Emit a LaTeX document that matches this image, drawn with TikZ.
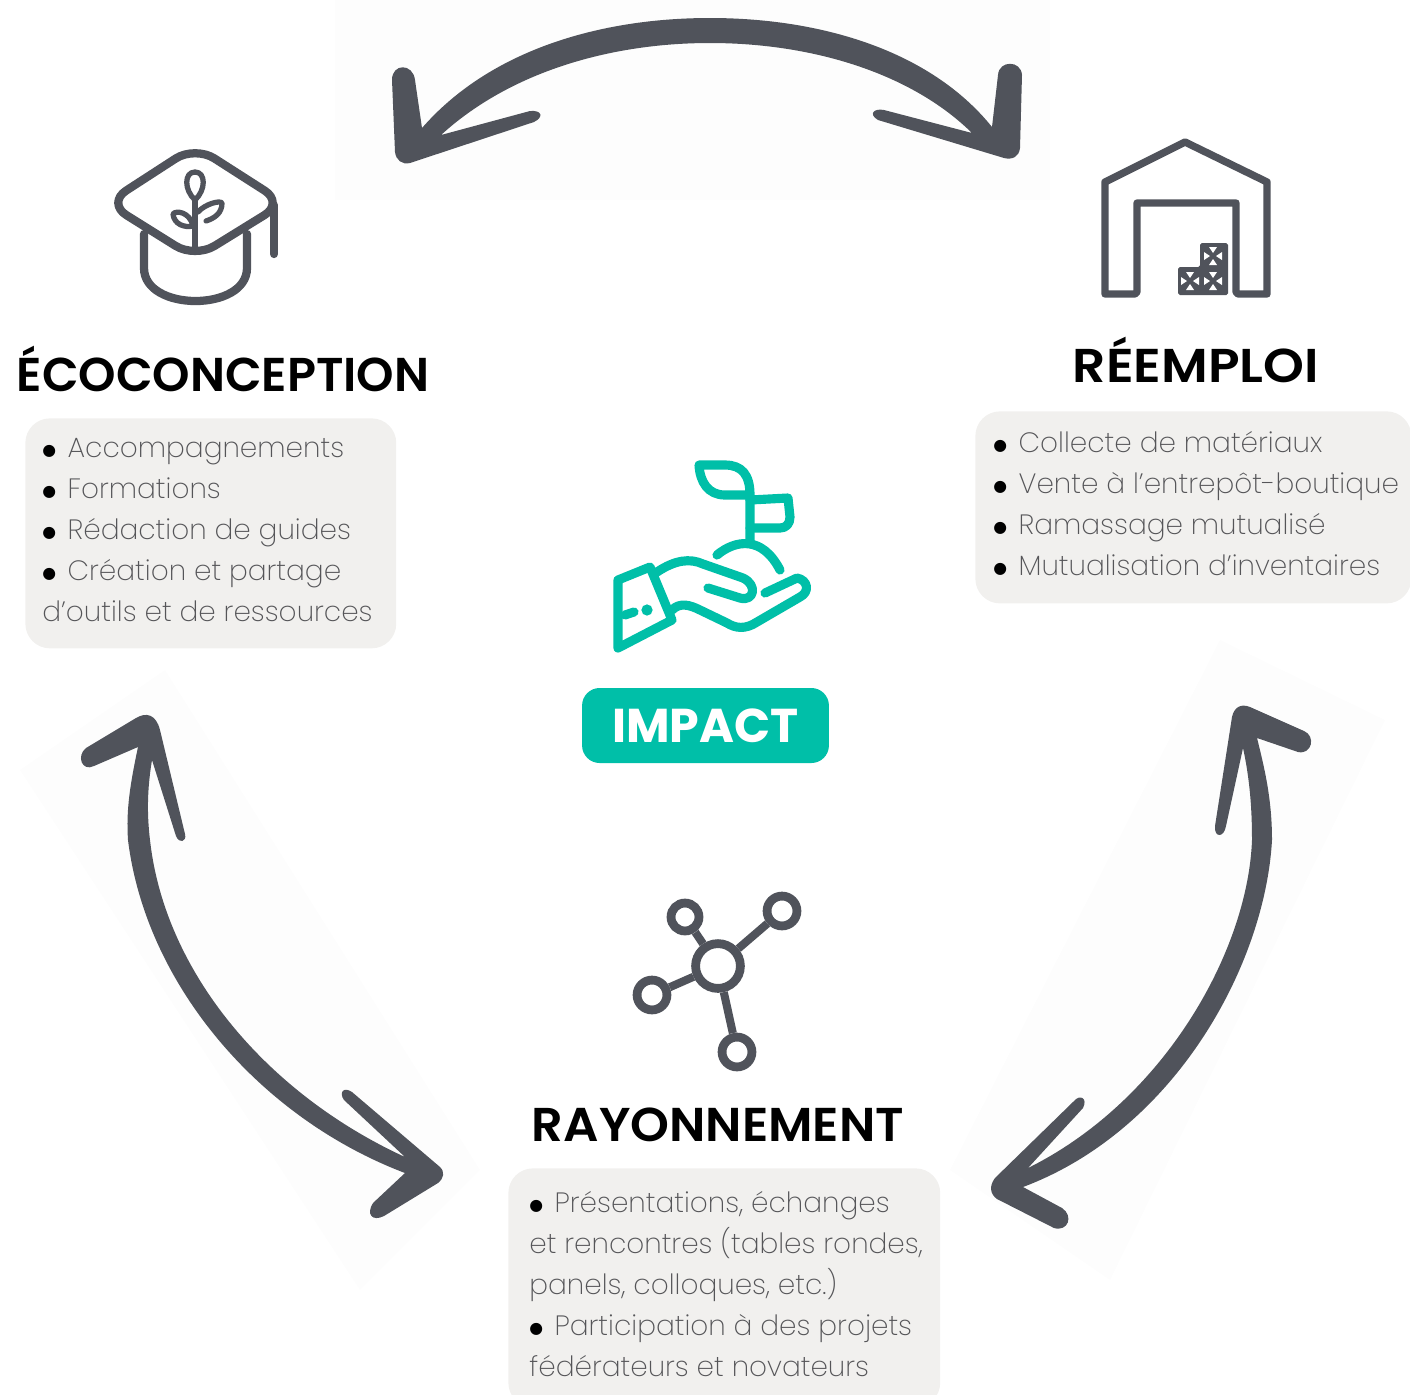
\documentclass[tikz,border=0pt]{standalone}
\usepackage{fontspec}
\setmainfont{Poppins}[UprightFont=* ExtraLight,BoldFont=* SemiBold]
\newfontfamily\heavyfont{Poppins}[UprightFont=* Bold]
\newfontfamily\dotfont{DejaVu Sans}
\usepackage{tikz}

\definecolor{slategrey}{HTML}{50535B}
\definecolor{boxgrey}{HTML}{F1F0EE}
\definecolor{impactgreen}{HTML}{00BFA8}
\definecolor{textgrey}{HTML}{555558}
\definecolor{faintgrey}{HTML}{FDFDFD}

\tikzset{
    infobox/.style={fill=boxgrey, rounded corners=14pt, inner sep=0pt, anchor=north west},
    infotext/.style={text=textgrey, inner sep=0pt, anchor=north west, align=left, font=\fontsize{15.9}{23.3}\selectfont},
    titlenode/.style={font=\fontsize{27}{30}\bfseries\selectfont, text=black, inner sep=0pt, anchor=base},
    iconline/.style={draw=slategrey, line width=4.7pt, line cap=round, line join=round},
    plantline/.style={draw=slategrey, line width=3pt, line cap=round, line join=round},
    leafline/.style={draw=impactgreen, line width=5.2pt, line cap=round, line join=round},
    ringnode/.style={circle, draw=slategrey, line width=5pt, inner sep=0pt, minimum size=#1}
}

\newcommand{\itemdot}{\makebox[14.4pt][l]{\raisebox{1.2pt}{\textcolor{black}{\dotfont\fontsize{9}{9}\selectfont ●}}}}

\begin{document}
\begin{tikzpicture}[x=0.02cm, y=-0.02cm]
    \useasboundingbox (0,0) rectangle (1410,1394);

    % Faint patches behind the arrows
    \fill[faintgrey] (335,0) rectangle (1050,200);
    \fill[faintgrey] (20,770) -- (165,670) -- (480,1170) -- (360,1290) -- cycle;
    \fill[faintgrey] (1220,640) -- (1385,720) -- (1110,1280) -- (950,1170) -- cycle;

    % Curved arrow on top
    \fill[slategrey] (422,128) .. controls (490,50) and (600,18) .. (710,18)
        .. controls (820,18) and (930,50) .. (992,127)
        -- (998,75) .. controls (999,60) and (1021,60) .. (1022,75) -- (1020,148)
        .. controls (1019,157) and (1012,160) .. (1004,158) -- (878,120)
        .. controls (868,114) and (874,108) .. (884,110) -- (972,133)
        .. controls (910,72) and (810,43) .. (710,43)
        .. controls (610,43) and (510,72) .. (441,135)
        -- (530,111) .. controls (542,110) and (544,117) .. (534,122) -- (410,163)
        .. controls (402,165) and (396,160) .. (395,152) -- (392,80)
        .. controls (392,63) and (413,63) .. (415,80) -- cycle;

    % Curved arrow on the left
    \fill[slategrey] (138,747) .. controls (130,785) and (126,810) .. (128,840)
        .. controls (146,985) and (260,1118) .. (405,1173)
        -- (373,1203) .. controls (366,1214) and (372,1222) .. (384,1216) -- (438,1183)
        .. controls (444,1178) and (445,1172) .. (440,1167) -- (352,1092)
        .. controls (343,1086) and (339,1093) .. (344,1100) -- (405,1157)
        .. controls (270,1095) and (165,975) .. (150,840)
        .. controls (147,815) and (147,790) .. (152,760)
        -- (176,836) .. controls (179,844) and (187,842) .. (185,834) -- (160,730)
        .. controls (156,714) and (146,712) .. (136,718) -- (86,748)
        .. controls (76,756) and (82,772) .. (94,766) -- cycle;

    % Curved arrow on the right
    \fill[slategrey] (1257,738) -- (1298,752) .. controls (1312,755) and (1316,736) .. (1304,731)
        -- (1250,707) .. controls (1240,703) and (1234,708) .. (1232,717) -- (1215,826)
        .. controls (1214,838) and (1224,838) .. (1226,826) -- (1243,748)
        .. controls (1250,780) and (1252,810) .. (1252,840)
        .. controls (1248,950) and (1165,1100) .. (1028,1168)
        -- (1083,1108) .. controls (1088,1098) and (1080,1094) .. (1074,1101) -- (995,1178)
        .. controls (989,1186) and (990,1194) .. (997,1199) -- (1054,1228)
        .. controls (1068,1232) and (1074,1216) .. (1062,1208) -- (1023,1187)
        .. controls (1175,1130) and (1265,965) .. (1272,840)
        .. controls (1272,800) and (1265,770) .. (1257,738) -- cycle;

    % Mortarboard icon
    \draw[iconline, rounded corners=13pt] (195,146) -- (284,203) -- (195,258) -- (107,203) -- cycle;
    \draw[iconline] (144,234) -- (144,268) .. controls (144,312) and (247,312) .. (247,268) -- (247,234);
    \draw[iconline] (274,205) -- (274,254);
    \draw[plantline] (195,248) -- (195,200);
    \draw[plantline] (195,200) .. controls (184,190) and (184,172) .. (195,172) .. controls (206,172) and (206,190) .. (195,200);
    \draw[plantline] (193,226) .. controls (190,212) and (176,210) .. (173,214) .. controls (174,224) and (184,228) .. (193,226);
    \draw[plantline] (198,212) .. controls (205,204) and (220,200) .. (222,203) .. controls (222,213) and (215,218) .. (206,221);

    % Warehouse icon
    \draw[iconline, line width=4.2pt] (1105,182) -- (1185,142) -- (1267,182) -- (1267,294) -- (1238,294) -- (1236,292) -- (1236,203) -- (1137,203) -- (1137,292) -- (1135,294) -- (1105,294) -- cycle;
    \fill[slategrey, rounded corners=1pt] (1178,267) -- (1200,267) -- (1200,243) -- (1228,243) -- (1228,295) -- (1178,295) -- cycle;
    \foreach \x/\y in {1213/256, 1213/281, 1190/281} {
        \foreach \a in {0,90,180,270} {
            \fill[white, shift={(\x,\y)}, rotate=\a] (3,0) -- (9,-4) -- (9,4) -- cycle;
        }
    }

    % Hand icon
    \draw[leafline] (750,542) -- (750,495) .. controls (750,475) and (742,465) .. (725,465) -- (699,465) .. controls (700,482) and (708,495) .. (725,495) -- (750,495);
    \draw[leafline] (750,500) -- (788,498) -- (790,517) .. controls (790,524) and (786,528) .. (780,528) -- (750,528);
    \draw[leafline] (717,555) .. controls (735,540) and (762,535) .. (780,570);
    \draw[leafline] (618,580) -- (650,567) -- (672,620) -- (618,648) -- cycle;
    \draw[leafline] (625,615) -- (634,612);
    \draw[leafline] (657,572) .. controls (675,560) and (690,558) .. (703,564) -- (743,578) .. controls (758,585) and (754,602) .. (740,598) -- (708,588);
    \draw[leafline] (765,593) -- (797,578) .. controls (808,580) and (810,592) .. (800,597) -- (757,622) .. controls (745,630) and (735,628) .. (727,623) -- (700,610) .. controls (690,605) and (680,602) .. (672,610);
    \fill[impactgreen] (647,610) circle (3.2pt);

    % Network icon
    \node[ringnode=15.9pt] (leaftop) at (685,917) {};
    \node[ringnode=17pt] (leafright) at (782,911) {};
    \node[ringnode=17pt] (leafleft) at (652,995) {};
    \node[ringnode=17pt] (leafdown) at (737,1052) {};
    \node[ringnode=25.5pt] (hub) at (718,966) {};
    \foreach \name in {leaftop, leafright, leafleft, leafdown} {
        \draw[slategrey, line width=4.6pt] (\name) -- (hub);
    }

    % Titles
    \node[titlenode] (ecotitle) at (223,391) {\scalebox{1.005}[1]{ÉCOCONCEPTION}};
    \node[titlenode] (reemtitle) at (1196,382) {\scalebox{1.096}[1]{RÉEMPLOI}};
    \node[titlenode] (raytitle) at (718,1141) {\scalebox{1.043}[1]{RAYONNEMENT}};

    % Text boxes
    \node[infobox, minimum width=211.1pt, minimum height=130.9pt] (ecobox) at (25,418) {};
    \node[infotext] (ecotext) at (42,438) {\itemdot Accompagnements\\ \itemdot Formations\\ \itemdot Rédaction de guides\\ \itemdot Création et partage\\ d'outils et de ressources};
    \node[infobox, minimum width=248.1pt, minimum height=109.3pt] (reembox) at (975,411) {};
    \node[infotext] (reemtext) at (993,431) {\itemdot Collecte de matériaux\\ \itemdot Vente à l'entrepôt-boutique\\ \itemdot Ramassage mutualisé\\ \itemdot Mutualisation d'inventaires};
    \node[infobox, minimum width=245.8pt, minimum height=136pt] (raybox) at (508,1168) {};
    \node[infotext] (raytext) at (529,1191) {\itemdot Présentations, échanges\\ et rencontres (tables rondes,\\ panels, colloques, etc.)\\ \itemdot Participation à des projets\\ fédérateurs et novateurs};

    % Badge in the middle
    \node[fill=impactgreen, text=white, rounded corners=10pt, minimum width=140.5pt, minimum height=42.7pt, inner sep=0pt, font=\fontsize{27}{30}\heavyfont\selectfont] (impact) at (705.5,725.5) {IMPACT};
\end{tikzpicture}
\end{document}
